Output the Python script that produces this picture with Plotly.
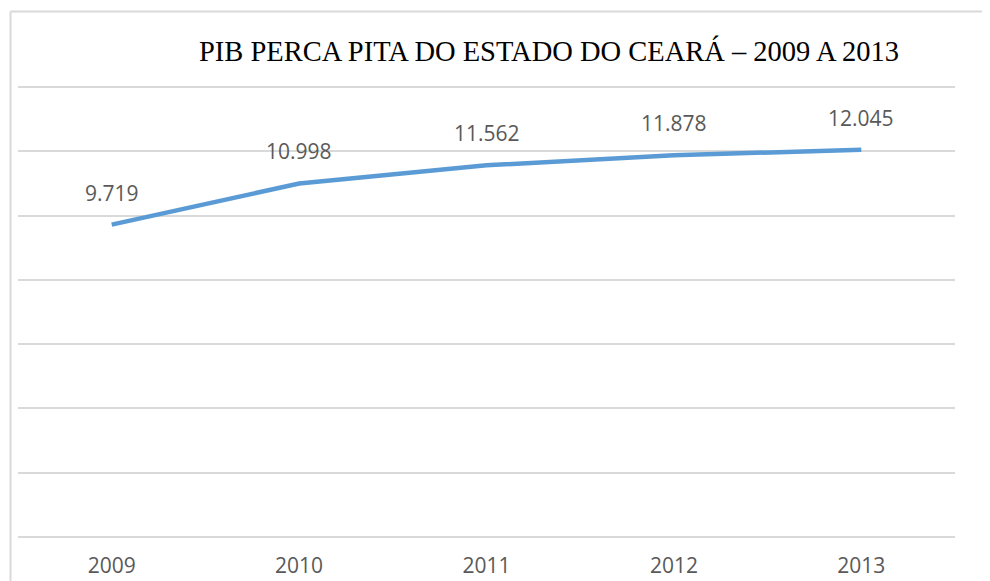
import plotly.graph_objects as go

years = ["2009", "2010", "2011", "2012", "2013"]
pib = [9.719, 10.998, 11.562, 11.878, 12.045]
labels = ["9.719", "10.998", "11.562", "11.878", "12.045"]
title = "PIB PERCA PITA DO ESTADO DO CEARÁ – 2009 A 2013"

OFF = 8  # page body margin offset
W, H = 990 - OFF, 581 - OFF
ml, mr, mt, mb = 18 - OFF, 35, 84 - OFF, 44
pw, ph = W - ml - mr, H - mt - mb
ytop = 14.093

fig = go.Figure()
fig.add_trace(go.Scatter(
    x=years, y=pib, mode="lines",
    line=dict(color="#5b9bd5", width=4.5),
    hoverinfo="skip", showlegend=False,
))

for i, (y, t) in enumerate(zip(pib, labels)):
    fig.add_annotation(
        x=i, y=y, text=t, showarrow=False, yshift=32,
        font=dict(family="Open Sans", size=21, color="#595959"),
        xanchor="center", yanchor="middle",
    )

def px_x(p):
    return (p - OFF - ml) / pw

def px_y(p):
    return (H - mb - (p - OFF)) / ph

fig.add_shape(type="line", xref="paper", yref="paper",
              x0=px_x(10.5), x1=px_x(1000), y0=px_y(11.5), y1=px_y(11.5),
              line=dict(color="#d9d9d9", width=2))
fig.add_shape(type="line", xref="paper", yref="paper",
              x0=px_x(10.5), x1=px_x(10.5), y0=px_y(11.5), y1=px_y(600),
              line=dict(color="#d9d9d9", width=2))

fig.update_layout(
    width=W, height=H,
    margin=dict(l=ml, r=mr, t=mt, b=mb, autoexpand=False),
    paper_bgcolor="white", plot_bgcolor="white",
    title=dict(text=title, x=(549 - OFF) / W, xanchor="center",
               y=1 - (51 - OFF) / H, yanchor="middle",
               font=dict(family="Liberation Serif", size=28.5, color="#000000")),
    xaxis=dict(type="category", range=[-0.5, 4.5], showgrid=False,
               showline=False, zeroline=False, ticks="", automargin=False,
               tickfont=dict(family="Open Sans", size=21, color="#595959"),
               ticklabelstandoff=14),
    yaxis=dict(range=[0, ytop], tickvals=[0, 2, 4, 6, 8, 10, 12, 14],
               showgrid=True, gridcolor="#d9d9d9", automargin=False,
               gridwidth=1.5, zeroline=True, zerolinecolor="#d9d9d9",
               zerolinewidth=1.5, showline=False, showticklabels=False,
               ticks=""),
)

fig.write_html("out.html")
